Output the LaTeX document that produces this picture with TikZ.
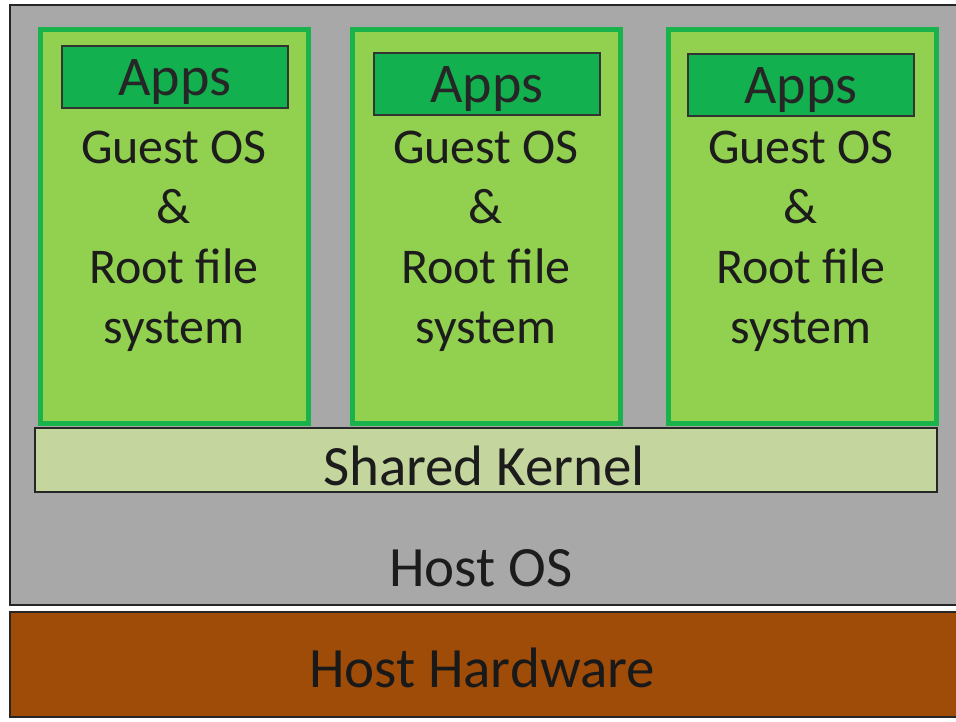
\documentclass[tikz,border=0pt]{standalone}
\usepackage{fontspec}
\setmainfont{Carlito}
\definecolor{hostgray}{HTML}{A8A8A8}
\definecolor{guestfill}{HTML}{92D050}
\definecolor{guestedge}{HTML}{19B24B}
\definecolor{appsfill}{HTML}{12B04E}
\definecolor{kernelfill}{HTML}{C4D69E}
\definecolor{hwfill}{HTML}{9E4C08}
\definecolor{txt}{HTML}{1C1C1C}
\begin{document}
\begin{tikzpicture}[
  x=1pt, y=-1pt, font=\fontsize{50}{60}\selectfont, text=txt,
  guest/.style={draw=guestedge,line width=5pt,fill=guestfill,minimum width=268pt,
                minimum height=394pt,inner sep=0pt},
  apps/.style={draw=black!80,line width=2pt,fill=appsfill,minimum width=226pt,
               minimum height=62pt,inner sep=0pt,text=black!85,text height=46pt,
               font=\fontsize{56}{60}\selectfont},
  lbl/.style={align=center,inner sep=0pt},
  big/.style={lbl,font=\fontsize{57}{60}\selectfont},
  layer/.style={draw=black!85,line width=2pt,inner sep=0pt}]

\useasboundingbox (0,0) rectangle (956,721);

% host layers
\node[layer,fill=hostgray,minimum width=948pt,minimum height=600pt] (host) at (484,305) {};
\node[layer,fill=hwfill,minimum width=948pt,minimum height=105pt] (hw) at (484,664.5) {};
\node[big] (hostlbl) at (481,568) {Host OS};
\node[big,text=black!90] (hwlbl) at (482,668) {Host Hardware};

% containers
\node[guest] (g1) at (174,226) {};
\node[guest] (g2) at (486,226) {};
\node[guest] (g3) at (802,226) {};

\node[apps] (a1) at (175,77) {Apps};
\node[apps] (a2) at (487,84) {Apps};
\node[apps] (a3) at (801,85) {Apps};

\node[lbl] (t1) at (174,241) {Guest OS\\\&\\Root file\\system};
\node[lbl] (t2) at (486,241) {Guest OS\\\&\\Root file\\system};
\node[lbl] (t3) at (801,241) {Guest OS\\\&\\Root file\\system};

% kernel
\node[layer,fill=kernelfill,minimum width=902pt,minimum height=64pt] (kern) at (486,460) {};
\node[big] (kernlbl) at (484,466) {Shared Kernel};
\end{tikzpicture}
\end{document}
